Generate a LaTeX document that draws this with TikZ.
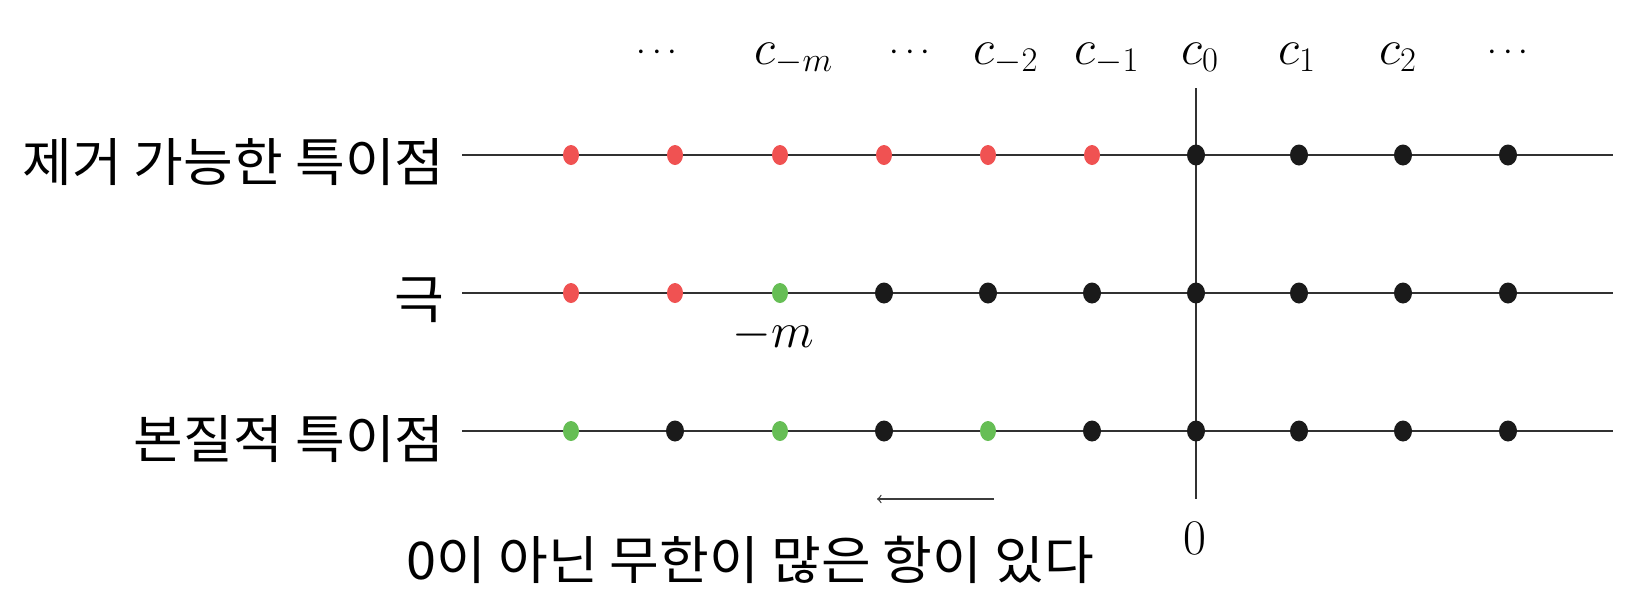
\documentclass[tikz,border=0pt]{standalone}
\usepackage{fontspec}
\usetikzlibrary{shapes.geometric}
\newfontfamily\kr[FakeStretch=1.04]{Noto Sans CJK KR}
\definecolor{pred}{RGB}{240,82,82}
\definecolor{pgreen}{RGB}{102,190,85}
\definecolor{pblack}{RGB}{26,26,26}
\begin{document}
\begin{tikzpicture}[x=0.5pt,y=-0.5pt,
  dot/.style={ellipse,inner sep=0pt,minimum width=8pt,minimum height=10pt,fill=#1},
  bdot/.style={ellipse,inner sep=0pt,minimum width=9pt,minimum height=10.5pt,fill=pblack},
  axisline/.style={line width=1pt,draw=pblack!90},
  rowlabel/.style={anchor=east,inner sep=0pt,font=\kr\fontsize{26}{30}\selectfont},
  toplabel/.style={anchor=base,inner sep=0pt,font=\fontsize{25}{29}\selectfont},
  dotslabel/.style={anchor=base,inner sep=0pt,font=\fontsize{18}{21}\selectfont},
  mathlabel/.style={inner sep=0pt,font=\fontsize{25}{30}\selectfont}]
\useasboundingbox (0,0) rectangle (1627,601);
% horizontal lines
\foreach \r/\y in {1/155,2/293,3/431}{
  \coordinate (L\r) at (462,\y);
  \coordinate (R\r) at (1613,\y);
  \draw[axisline] (L\r) -- (R\r);
}
% vertical axis
\coordinate (vt) at (1196,88);
\coordinate (vb) at (1196,499);
\draw[line width=0.75pt,draw=pblack!90] (vt) -- (vb);
% dots
\def\xs{{571,675,780,884,988,1092,1196,1299,1403,1508}}
% row 1
\foreach \i/\c in {0/pred,1/pred,2/pred,3/pred,4/pred,5/pred}{
  \pgfmathsetmacro\xx{\xs[\i]}
  \node[dot=\c] (d1-\i) at (\xx,155) {};
}
\foreach \i in {6,...,9}{
  \pgfmathsetmacro\xx{\xs[\i]}
  \node[bdot] (d1-\i) at (\xx,155) {};
}
% row 2
\foreach \i/\c in {0/pred,1/pred,2/pgreen}{
  \pgfmathsetmacro\xx{\xs[\i]}
  \node[dot=\c] (d2-\i) at (\xx,293) {};
}
\foreach \i in {3,...,9}{
  \pgfmathsetmacro\xx{\xs[\i]}
  \node[bdot] (d2-\i) at (\xx,293) {};
}
% row 3
\foreach \i/\c in {0/pgreen,2/pgreen,4/pgreen}{
  \pgfmathsetmacro\xx{\xs[\i]}
  \node[dot=\c] (d3-\i) at (\xx,431) {};
}
\foreach \i in {1,3,5,6,7,8,9}{
  \pgfmathsetmacro\xx{\xs[\i]}
  \node[bdot] (d3-\i) at (\xx,431) {};
}
% top labels
\node[dotslabel] (t0) at (657,60) {$\cdots$};
\node[toplabel] (t1) at (794,64) {$c_{-m}$};
\node[dotslabel] (t2) at (910,60) {$\cdots$};
\node[toplabel] (t3) at (1006,64) {$c_{-2}$};
\node[toplabel] (t4) at (1107,64) {$c_{-1}$};
\node[toplabel] (t5) at (1200,64) {$c_{0}$};
\node[toplabel] (t6) at (1297,64) {$c_{1}$};
\node[toplabel] (t7) at (1398,64) {$c_{2}$};
\node[dotslabel] (t8) at (1508,60) {$\cdots$};
% row labels
\node[rowlabel] (lab1) at (445,162) {제거 가능한 특이점};
\node[rowlabel] (lab2) at (445,300) {극};
\node[rowlabel] (lab3) at (445,439) {본질적 특이점};
% -m and 0
\node[mathlabel] (mm) at (773,335) {$-m$};
\node[mathlabel] (zero) at (1195,538) {$0$};
% arrow
\coordinate (as) at (994,499);
\coordinate (ae) at (877,499);
\draw[line width=0.65pt,draw=pblack!85,->] (as) -- (ae);
% bottom text
\node[inner sep=0pt,anchor=west,font=\kr\fontsize{26}{30}\selectfont] (bt) at (406,560) {0이 아닌 무한이 많은 항이 있다};
\end{tikzpicture}
\end{document}
